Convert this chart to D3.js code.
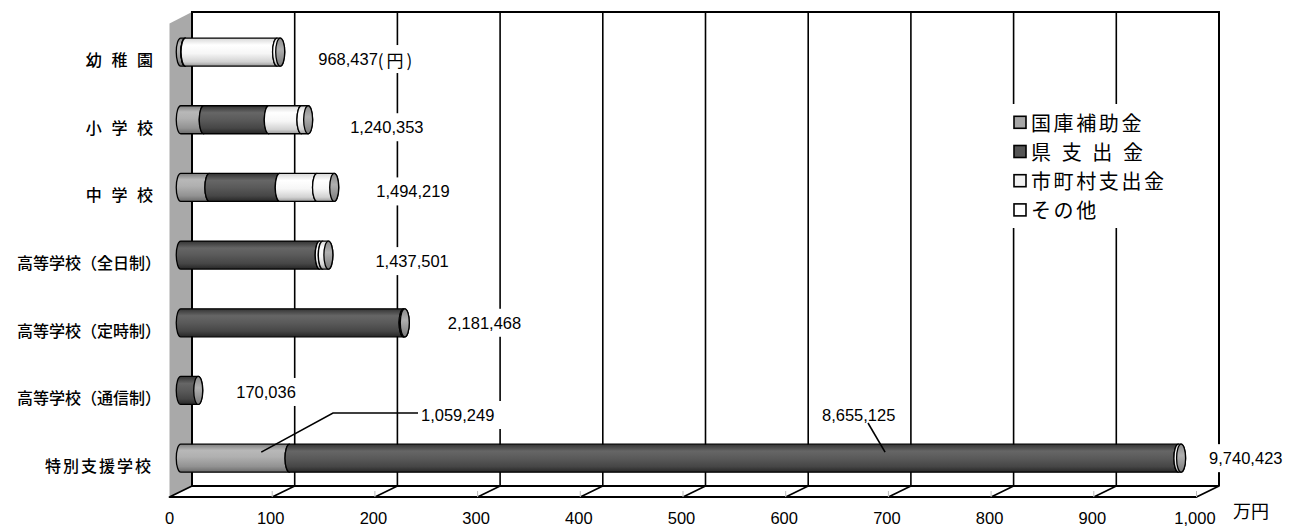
<!DOCTYPE html>
<html>
<head>
<meta charset="utf-8">
<script src="https://cdn.jsdelivr.net/npm/d3@7"></script>
<style>
  body { margin: 0; background: #fff; }
  svg { display: block; }
</style>
</head>
<body>
<svg id="chart" width="1299" height="526"></svg>
<script>
// ---- data (yen per student) ----
const categories = ["幼 稚 園", "小 学 校", "中 学 校", "高等学校（全日制）", "高等学校（定時制）", "高等学校（通信制）", "特別支援学校"];
const kokkoHojo  = [44000, 224000, 279000, 0, 0, 0, 1059249];        // 国庫補助金
const kenShishutsu = [3000, 633000, 685000, 1353000, 2170000, 170036, 8655125]; // 県支出金
const shichosonShishutsu = [891000, 318000, 363000, 30000, 4000, 0, 0];          // 市町村支出金
const sonota = [30437, 65353, 167219, 54501, 7468, 0, 26049];        // その他
const seriesNames = ["国庫補助金", "県 支 出 金", "市町村支出金", "その他"];
const tickValues = [0, 100, 200, 300, 400, 500, 600, 700, 800, 900, 1000]; // 万円
const tickLabels = ["0", "100", "200", "300", "400", "500", "600", "700", "800", "900", "1,000"];
const unitLabel = "万円";

// ---- layout ----
const wallTop = 12, floorBack = 486;
const depthDX = -22.5, depthDY = 11;        // oblique offset from back wall to front edge
const ry = 14, rx = 4.5;                    // cylinder radii on screen
const numFont = "'Liberation Sans', Arial, sans-serif";
const cjkFont = "'Noto Sans CJK JP', sans-serif";

// value-label offsets from the bar end / band centre
const totalLabelPos = [[38, 7], [42, 7.5], [42, 4], [47, 6], [43, 0], [38, 1.5], [28, 0]];
// extra letter spacing for individual category labels
const catSpacing = [0, 0, 0, 0, 0, 0, 2];
// callouts for the 特別支援学校 components: series index, anchor fraction, elbow, text start
const callouts = [
  { k: 0, frac: 0.74, dyA: -6, elbow: [333, 413], end: [418, 413], text: [421, 415] },
  { k: 1, frac: 0.67, dyA: -6, elbow: null, end: [868, 423], text: [822, 415] }
];

const series = [
  { name: seriesNames[0], values: kokkoHojo, grad: "g0", swatch: "#a6a6a6" },
  { name: seriesNames[1], values: kenShishutsu, grad: "g1", swatch: "#555555" },
  { name: seriesNames[2], values: shichosonShishutsu, grad: "g2", swatch: "#f2f2f2" },
  { name: seriesNames[3], values: sonota, grad: "g3", swatch: "#ffffff" }
];
const totals = categories.map((_, i) => d3.sum(series, s => s.values[i]));

const svg = d3.select("#chart");

// scales: back-wall plane, bar mid-depth plane, front floor edge
const xBack = d3.scaleLinear().domain([0, 1000]).range([192, 1219]);
const xBar = v => xBack(v) + depthDX / 2;
const xFront = v => xBack(v) + depthDX;
const y = d3.scaleBand().domain(categories).range([18.2, 492]).paddingInner(0);
const cyOf = c => y(c) + y.bandwidth() / 2;
const fmt = d3.format(",");

// ---- gradients for the cylinders ----
const defs = svg.append("defs");
const gradStops = {
  g0: [[0, "#7e7e7e"], [0.22, "#b8b8b8"], [0.45, "#b0b0b0"], [0.8, "#929292"], [1, "#6a6a6a"]],
  g1: [[0, "#333333"], [0.25, "#666666"], [0.5, "#5a5a5a"], [0.8, "#464646"], [1, "#262626"]],
  g2: [[0, "#d6d6d6"], [0.25, "#ffffff"], [0.55, "#f6f6f6"], [0.85, "#d2d2d2"], [1, "#9a9a9a"]],
  g3: [[0, "#d6d6d6"], [0.25, "#ffffff"], [0.55, "#f6f6f6"], [0.85, "#d2d2d2"], [1, "#9a9a9a"]],
  cap: [[0, "#8a8a8a"], [0.4, "#b0b0b0"], [1, "#7a7a7a"]]
};
Object.entries(gradStops).forEach(([id, stops]) => {
  const g = defs.append("linearGradient").attr("id", id)
    .attr("x1", 0).attr("y1", 0).attr("x2", 0).attr("y2", 1);
  stops.forEach(([o, c]) => g.append("stop").attr("offset", o).attr("stop-color", c));
});

// ---- back wall ----
svg.append("rect").attr("x", xBack(0)).attr("y", wallTop)
  .attr("width", xBack(1000) - xBack(0)).attr("height", floorBack - wallTop).attr("fill", "#fff");

svg.append("g").selectAll("line").data(tickValues.slice(1, -1)).join("line")
  .attr("x1", d => xBack(d)).attr("x2", d => xBack(d))
  .attr("y1", wallTop).attr("y2", floorBack)
  .attr("stroke", "#000").attr("stroke-width", 1.6);
svg.append("path")
  .attr("d", `M${xBack(0)},${floorBack} V${wallTop} H${xBack(1000)} V${floorBack}`)
  .attr("fill", "none").attr("stroke", "#000").attr("stroke-width", 2);

// ---- left side wall ----
svg.append("path")
  .attr("d", `M${xBack(0)},${wallTop} L${xFront(0)},${wallTop + depthDY + 0.5} L${xFront(0)},${floorBack + depthDY} L${xBack(0)},${floorBack} Z`)
  .attr("fill", "#a9a9a9");
svg.append("line").attr("x1", xBack(0)).attr("x2", xBack(0)).attr("y1", wallTop).attr("y2", floorBack)
  .attr("stroke", "#000").attr("stroke-width", 2);

// ---- floor ----
svg.append("path")
  .attr("d", `M${xBack(0)},${floorBack} H${xBack(1000)} L${xFront(1000)},${floorBack + depthDY} H${xFront(0)} Z`)
  .attr("fill", "#fff").attr("stroke", "#000").attr("stroke-width", 1.8).attr("stroke-linejoin", "round");
svg.append("g").selectAll("line").data(tickValues.slice(1, -1)).join("line")
  .attr("x1", d => xFront(d)).attr("y1", floorBack + depthDY)
  .attr("x2", d => xBack(d)).attr("y2", floorBack)
  .attr("stroke", "#000").attr("stroke-width", 1.6);
svg.append("g").selectAll("line").data(tickValues.slice(1)).join("line")
  .attr("x1", d => xFront(d)).attr("x2", d => xFront(d))
  .attr("y1", floorBack + depthDY - 6).attr("y2", floorBack + depthDY)
  .attr("stroke", "#bbb").attr("stroke-width", 1);

// ---- x tick labels ----
svg.append("g").selectAll("text").data(tickValues).join("text")
  .attr("x", (d, i) => xFront(d) - (i === 0 ? 0 : 1.5)).attr("y", 518)
  .attr("text-anchor", "middle").attr("dominant-baseline", "central")
  .attr("font-family", numFont).attr("font-size", 16.5).attr("fill", "#000")
  .text((d, i) => tickLabels[i]);
svg.append("text").attr("x", 1233).attr("y", 510)
  .attr("dominant-baseline", "central").attr("font-family", cjkFont)
  .attr("font-size", 18).attr("fill", "#000").text(unitLabel);

// ---- category labels ----
svg.append("g").selectAll("text").data(categories).join("text")
  .attr("x", d => 153 + (d.endsWith("）") ? 8 : 0)).attr("y", d => cyOf(d) + 7)
  .attr("text-anchor", "end").attr("dominant-baseline", "central")
  .attr("font-family", cjkFont).attr("font-size", 16).attr("font-weight", 500)
  .attr("word-spacing", 6).attr("letter-spacing", (d, i) => catSpacing[i]).attr("fill", "#000")
  .attr("xml:space", "preserve")
  .text(d => d);

// ---- layers: label backgrounds cover the grid, bars above, texts on top ----
const boxLayer = svg.append("g");
const barLayer = svg.append("g");
const textLayer = svg.append("g");

// ---- cylinders ----
categories.forEach((c, i) => {
  const cy = cyOf(c);
  let cum = 0;
  const segs = [];
  series.forEach((s, k) => {
    const v = s.values[i];
    if (v > 0) segs.push({ k, a: cum, b: cum + v });
    cum += v;
  });
  segs.forEach((sg, j) => {
    const xa = xBar(sg.a / 1e4), xb = xBar(sg.b / 1e4);
    const last = j === segs.length - 1;
    const d = `M${xa},${cy - ry} L${xb},${cy - ry} A${rx},${ry} 0 0 ${last ? 1 : 0} ${xb},${cy + ry} ` +
              `L${xa},${cy + ry} A${rx},${ry} 0 0 1 ${xa},${cy - ry} Z`;
    barLayer.append("path").attr("d", d)
      .attr("fill", `url(#${series[sg.k].grad})`)
      .attr("stroke", "#000").attr("stroke-width", 1.3).attr("stroke-linejoin", "round");
  });
  const xe = xBar(totals[i] / 1e4);
  barLayer.append("ellipse").attr("cx", xe).attr("cy", cy).attr("rx", rx).attr("ry", ry)
    .attr("fill", "url(#cap)").attr("stroke", "#000").attr("stroke-width", 1.3);
});

// ---- total labels ----
function addLabel(x, yc, parts) {
  const t = textLayer.append("text").attr("x", x).attr("y", yc)
    .attr("dominant-baseline", "central").attr("fill", "#000");
  parts.forEach(p => {
    const ts = t.append("tspan").attr("font-family", p.font).attr("font-size", p.size).text(p.text);
    if (p.spacing) ts.attr("letter-spacing", p.spacing);
  });
  const bb = t.node().getBBox();
  boxLayer.append("rect").attr("x", bb.x - 12).attr("y", yc - 14)
    .attr("width", bb.width + 24).attr("height", 28).attr("fill", "#fff");
}
categories.forEach((c, i) => {
  const [dx, dy] = totalLabelPos[i];
  const parts = [{ text: fmt(totals[i]), font: numFont, size: 16.5 }];
  if (i === 0) parts.push({ text: "(円)", font: cjkFont, size: 17, spacing: 3 });
  addLabel(xBar(totals[i] / 1e4) + dx, cyOf(c) + dy, parts);
});

// ---- component callouts on 特別支援学校 ----
{
  const i = categories.length - 1;
  const cy = cyOf(categories[i]);
  callouts.forEach(co => {
    const before = d3.sum(series.slice(0, co.k), s => s.values[i]);
    const v = series[co.k].values[i];
    const xa = xBar(before / 1e4), xb = xBar((before + v) / 1e4);
    const pts = [[xa + (xb - xa) * co.frac, cy + co.dyA]];
    if (co.elbow) pts.push(co.elbow);
    pts.push(co.end);
    textLayer.append("path").attr("d", d3.line()(pts))
      .attr("fill", "none").attr("stroke", "#000").attr("stroke-width", 1.6);
    addLabel(co.text[0], co.text[1], [{ text: fmt(v), font: numFont, size: 16.5 }]);
  });
}

// ---- legend ----
const lgX = 1014, lgY0 = 122.3, lgStep = 29.2;
boxLayer.append("rect").attr("x", 1004).attr("y", 104).attr("width", 176).attr("height", 124).attr("fill", "#fff");
const lg = textLayer.append("g");
series.forEach((s, k) => {
  const yy = lgY0 + k * lgStep;
  lg.append("rect").attr("x", lgX).attr("y", yy - 6).attr("width", 12).attr("height", 12)
    .attr("fill", s.swatch).attr("stroke", "#000").attr("stroke-width", 1.6);
  lg.append("text").attr("x", lgX + 17).attr("y", yy)
    .attr("dominant-baseline", "central").attr("font-family", cjkFont)
    .attr("font-size", 20).attr("font-weight", 400).attr("letter-spacing", 2.6).attr("word-spacing", 1)
    .attr("xml:space", "preserve").attr("fill", "#000").text(s.name);
});
</script>
</body>
</html>
